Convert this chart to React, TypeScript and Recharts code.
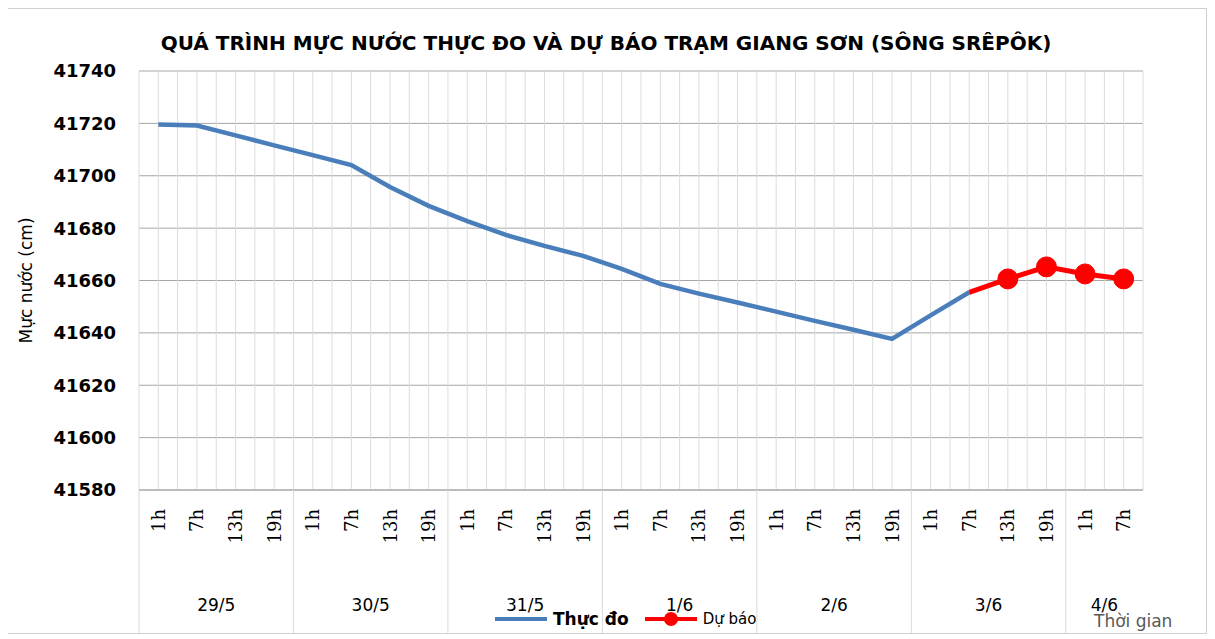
import { CartesianGrid, Legend, Line, LineChart, XAxis, YAxis } from "recharts";

const days = ["29/5", "30/5", "31/5", "1/6", "2/6", "3/6", "4/6"];
const dayHours = [
  ["1h", "7h", "13h", "19h"],
  ["1h", "7h", "13h", "19h"],
  ["1h", "7h", "13h", "19h"],
  ["1h", "7h", "13h", "19h"],
  ["1h", "7h", "13h", "19h"],
  ["1h", "7h", "13h", "19h"],
  ["1h", "7h"],
];

// Thực đo (observed)
const observed = [
  41719.6, 41719.2, 41715.4, 41711.6,
  41707.9, 41704.1, 41695.7, 41688.5,
  41682.7, 41677.4, 41673.2, 41669.4,
  41664.4, 41658.7, 41655.0, 41651.6,
  41648.1, 41644.6, 41641.2, 41637.7,
  41646.7, 41655.5, null, null,
  null, null,
];

// Dự báo (forecast)
const forecast = [
  null, null, null, null,
  null, null, null, null,
  null, null, null, null,
  null, null, null, null,
  null, null, null, null,
  null, 41655.5, 41660.6, 41665.2,
  41662.5, 41660.6,
];

const yTicks = [41580, 41600, 41620, 41640, 41660, 41680, 41700, 41720, 41740];

type Cat = { key: string; hour: string; day: string; first: boolean; size: number };
const cats: Cat[] = [];
days.forEach((d, di) => {
  dayHours[di].forEach((h, hi) => {
    cats.push({ key: d + " " + h, hour: h, day: d, first: hi === 0, size: dayHours[di].length });
  });
});

const data = cats.map((c, i) => ({
  name: c.key,
  observed: observed[i],
  forecast: forecast[i],
}));

const W = 1200;
const H = 624;
const M = { top: 62, right: 63, left: 0, bottom: 0 };
const Y_W = 133;
const X_H = 143;
const STEP = (W - M.left - M.right - Y_W) / cats.length;

const BLUE = "#4a7ebb";
const RED = "#ff0000";

const HourTick = (props: any) => {
  const { x, y, index } = props;
  const c = cats[index];
  if (!c) return null;
  const top = y + 19;
  return (
    <g>
      <text
        x={x}
        y={top}
        transform={`rotate(-90, ${x}, ${top})`}
        textAnchor="end"
        dominantBaseline="central"
        fontFamily="DejaVu Serif"
        fontSize={18}
        fill="#000"
      >
        {c.hour}
      </text>
      {c.first && (
        <>
          <line x1={x - STEP / 2} y1={y} x2={x - STEP / 2} y2={H} stroke="#d9d9d9" />
          <text
            x={x - STEP / 2 + (STEP * c.size) / 2}
            y={y + 121}
            textAnchor="middle"
            fontFamily="DejaVu Sans"
            fontSize={17}
            fill="#000"
          >
            {c.day}
          </text>
        </>
      )}
    </g>
  );
};

const ForecastDot = (props: any) => {
  const { cx, cy, index, value } = props;
  if (value == null || index === 21) return <g key={index} />;
  return <circle key={index} cx={cx} cy={cy} r={10} fill={RED} stroke={RED} />;
};

const LegendContent = () => (
  <div style={{ display: "flex", alignItems: "center", fontFamily: "DejaVu Sans", whiteSpace: "nowrap" }}>
    <svg width={56} height={14}>
      <line x1={2} y1={7} x2={54} y2={7} stroke={BLUE} strokeWidth={4} />
    </svg>
    <span style={{ fontSize: 17, fontWeight: "bold", marginLeft: 4, marginRight: 14 }}>Thực đo</span>
    <svg width={56} height={16}>
      <line x1={2} y1={8} x2={54} y2={8} stroke={RED} strokeWidth={4} />
      <circle cx={28} cy={8} r={7} fill={RED} />
    </svg>
    <span style={{ fontSize: 15, marginLeft: 4 }}>Dự báo</span>
  </div>
);

const YLabel = (props: any) => {
  const { viewBox } = props;
  const x = viewBox.x + 20;
  const y = viewBox.y + viewBox.height / 2;
  return (
    <text
      x={x}
      y={y}
      transform={`rotate(-90, ${x}, ${y})`}
      textAnchor="middle"
      dominantBaseline="central"
      fontFamily="DejaVu Sans"
      fontSize={17}
      fill="#000"
    >
      Mực nước (cm)
    </text>
  );
};

const App = () => {
  return (
    <div
      style={{
        position: "relative",
        width: W,
        height: H,
        border: "1px solid #d0d0d0",
        background: "#fff",
        marginLeft: -3,
      }}
    >
      <div
        style={{
          position: "absolute",
          top: 22,
          left: 0,
          width: W,
          textAlign: "center",
          fontFamily: "DejaVu Sans",
          fontWeight: "bold",
          fontSize: 20,
          color: "#000",
        }}
      >
        QUÁ TRÌNH MỰC NƯỚC THỰC ĐO VÀ DỰ BÁO TRẠM GIANG SƠN (SÔNG SRÊPÔK)
      </div>
      <LineChart width={W} height={H} data={data} margin={M}>
        <CartesianGrid vertical={false} stroke="#a6a6a6" />
        <CartesianGrid
          horizontal={false}
          stroke="#dcdcdc"
          verticalCoordinatesGenerator={({ offset }: any) =>
            Array.from({ length: cats.length * 2 + 1 }, (_, i) => offset.left + (offset.width * i) / (cats.length * 2))
          }
        />
        <XAxis
          dataKey="name"
          scale="band"
          interval={0}
          height={X_H}
          tickSize={0}
          tickMargin={0}
          axisLine={{ stroke: "#a6a6a6" }}
          tickLine={false}
          tick={<HourTick />}
        />
        <YAxis
          width={Y_W}
          domain={[41580, 41740]}
          ticks={yTicks}
          interval={0}
          axisLine={false}
          tickLine={false}
          tickSize={0}
          tickMargin={23}
          tick={{ fontFamily: "DejaVu Sans", fontWeight: "bold", fontSize: 18, fill: "#000" }}
          label={{ content: <YLabel /> }}
        />
        <Legend
          layout="horizontal"
          verticalAlign="middle"
          align="center"
          wrapperStyle={{ top: 600, left: 487, width: "auto" }}
          content={<LegendContent />}
        />
        <Line
          type="linear"
          dataKey="observed"
          name="Thực đo"
          stroke={BLUE}
          strokeWidth={4.5}
          dot={false}
          activeDot={false}
          isAnimationActive={false}
        />
        <Line
          type="linear"
          dataKey="forecast"
          name="Dự báo"
          stroke={RED}
          strokeWidth={5}
          dot={<ForecastDot />}
          activeDot={false}
          isAnimationActive={false}
        />
      </LineChart>
      <div
        style={{
          position: "absolute",
          top: 602,
          left: 1088,
          fontFamily: "DejaVu Sans",
          fontSize: 17,
          color: "#595959",
        }}
      >
        Thời gian
      </div>
    </div>
  );
};

export default App;
